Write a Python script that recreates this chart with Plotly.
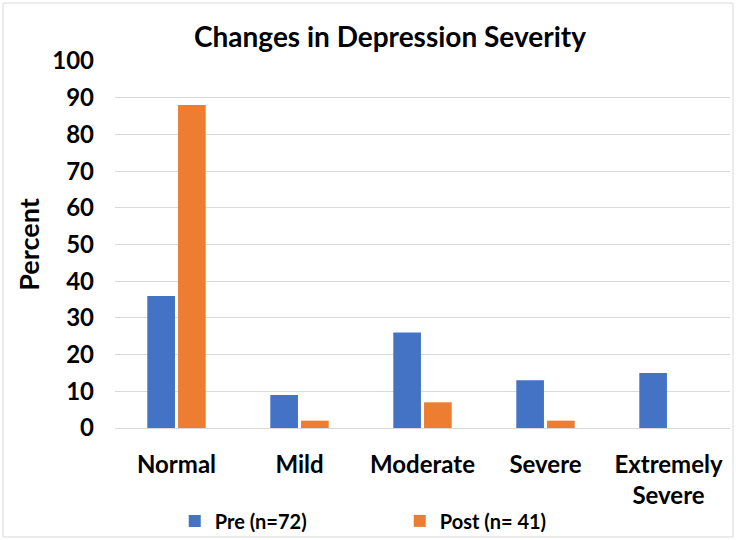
import plotly.graph_objects as go

categories = ["Normal", "Mild", "Moderate", "Severe", "Extremely<br>Severe"]
pre_values = [36, 9, 26, 13, 15]
post_values = [88, 2, 7, 2, 0]
pre_name = "Pre (n=72)"
post_name = "Post (n= 41)"
y_ticks = [0, 10, 20, 30, 40, 50, 60, 70, 80, 90, 100]

FONT = "Lato"
W, H = 736, 540
ml, mr, mt, mb = 115, 6, 61, 112

fig = go.Figure()
fig.add_trace(go.Bar(x=categories, y=pre_values, name=pre_name,
                     marker=dict(color="#4472C4", line=dict(width=0))))
fig.add_trace(go.Bar(x=categories, y=post_values, name=post_name,
                     marker=dict(color="#ED7D31", line=dict(width=0))))

pw = W - ml - mr
ph = H - mt - mb
fig.add_shape(type="rect", xref="paper", yref="paper",
              x0=(3 - ml) / pw, x1=(733 - ml) / pw,
              y0=-(537 - mt - ph) / ph, y1=1 + (mt - 3) / ph,
              line=dict(color="#D9D9D9", width=1), fillcolor="rgba(0,0,0,0)", layer="below")

fig.update_layout(
    width=W, height=H,
    margin=dict(l=ml, r=mr, t=mt, b=mb, autoexpand=False),
    paper_bgcolor="white", plot_bgcolor="white",
    barmode="group", bargap=0.5, bargroupgap=0.1,
    title=dict(text="<b>Changes in Depression Severity</b>", x=390 / W, xanchor="center",
               y=1 - 37 / H, yanchor="middle", xref="container",
               font=dict(family=FONT, size=28, color="#000000")),
    font=dict(family=FONT, color="#000000"),
    xaxis=dict(tickfont=dict(family=FONT, size=24, color="#000000", weight="bold"),
               showgrid=False, showline=False, ticks="", ticklabelstandoff=20,
               automargin=False),
    yaxis=dict(range=[0, 100], tickvals=y_ticks, showgrid=True, gridcolor="#D9D9D9",
               gridwidth=1, zeroline=True, zerolinecolor="#D9D9D9", zerolinewidth=1,
               tickfont=dict(family=FONT, size=24, color="#000000", weight="bold"),
               title=dict(text="<b>Percent</b>", font=dict(family=FONT, size=27, color="#000000"),
                          standoff=4),
               showline=False, ticks="", ticklabelstandoff=20, automargin=False),
    legend=dict(orientation="h", x=0.463, xanchor="center", y=-0.2, yanchor="top",
                font=dict(family=FONT, size=20, color="#000000", weight="bold"),
                bgcolor="rgba(0,0,0,0)",
                itemsizing="constant", entrywidth=180, traceorder="normal"),
)

fig.write_html("out.html", config={"displayModeBar": False},
               post_script="document.body.style.margin='0px';")
